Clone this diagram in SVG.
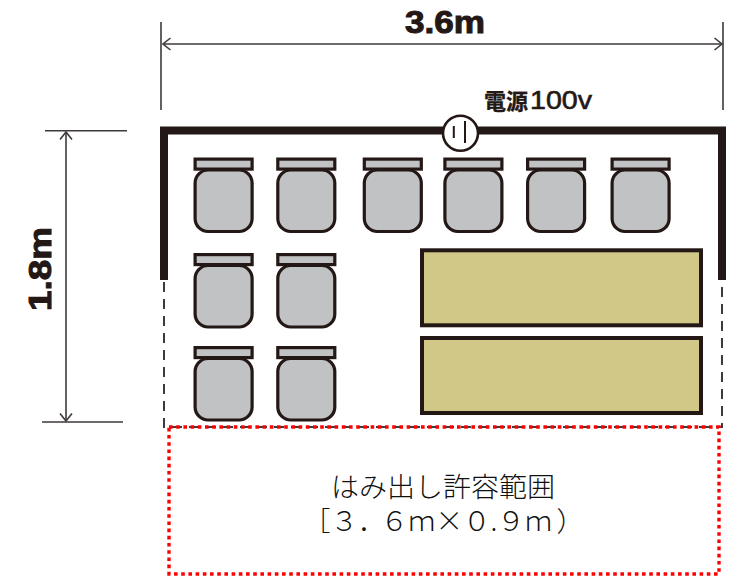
<svg xmlns="http://www.w3.org/2000/svg" xmlns:xlink="http://www.w3.org/1999/xlink" width="732" height="576" viewBox="0 0 732 576">
<style>
.dim{fill:none;stroke:#3e3a39;stroke-width:1.6}
.wall{fill:none;stroke:#231815;stroke-width:8}
.dash{fill:none;stroke:#3e3a39;stroke-width:2;stroke-dasharray:10 7}
.seat{fill:#c0c2c4;stroke:#231815;stroke-width:3.2}
.mat{fill:#d1c888;stroke:#231815;stroke-width:4}
.b{font-family:"Liberation Sans","Noto Sans CJK JP",sans-serif;font-weight:700;fill:#231815;stroke:#231815;stroke-width:1}
.j{font-family:"Noto Sans CJK JP",sans-serif;font-weight:300;fill:#111;font-size:27.5px}
</style>
<defs>
<marker id="arr" viewBox="0 0 14 14" refX="12.5" refY="7" markerWidth="14" markerHeight="14" markerUnits="userSpaceOnUse" orient="auto-start-reverse"><path d="M5 1 L12.5 7 L5 13" fill="none" stroke="#3e3a39" stroke-width="1.6"/></marker>
<g id="c"><rect class="seat" x="1.6" y="1.6" width="57" height="10"/><rect class="seat" x="1.6" y="12.5" width="57" height="61.5" rx="13"/></g>
</defs>
<g id="connectors">
<path class="dim" d="M161 22V110M723 22V110M45 130.7H127M42 422H123"/>
<path class="dim" d="M163 44H722" marker-start="url(#arr)" marker-end="url(#arr)"/>
<path class="dim" d="M66 132V421" marker-start="url(#arr)" marker-end="url(#arr)"/>
</g>
<g id="room">
<path class="dash" d="M164 282V427H722V282"/>
<path class="wall" d="M164 280V130.5H722V280"/>
</g>
<g id="outlet">
<circle cx="460.5" cy="133.3" r="17.5" fill="#fff" stroke="#231815" stroke-width="2.6"/>
<path d="M453.8 126V138M465 121V143" stroke="#231815" stroke-width="2" fill="none"/>
</g>
<g id="chairs">
<use xlink:href="#c" href="#c" x="193.5" y="157.5"/>
<use xlink:href="#c" href="#c" x="276.2" y="157.5"/>
<use xlink:href="#c" href="#c" x="362.7" y="157.5"/>
<use xlink:href="#c" href="#c" x="443.3" y="157.5"/>
<use xlink:href="#c" href="#c" x="526" y="157.5"/>
<use xlink:href="#c" href="#c" x="610.5" y="157.5"/>
<use xlink:href="#c" href="#c" x="193.5" y="253"/>
<use xlink:href="#c" href="#c" x="276.2" y="253"/>
<use xlink:href="#c" href="#c" x="193.5" y="346"/>
<use xlink:href="#c" href="#c" x="276.2" y="346"/>
</g>
<g id="mats">
<rect class="mat" x="422" y="250.3" width="279" height="75"/>
<rect class="mat" x="422" y="338" width="279" height="75"/>
</g>
<g id="allowance">
<rect x="169" y="427" width="550" height="147" fill="none" stroke="#f00" stroke-width="3.4" stroke-dasharray="3.6 3.6"/>
<text class="j"><tspan x="331" y="497" textLength="224" lengthAdjust="spacingAndGlyphs">はみ出し許容範囲</tspan><tspan x="303" y="531">［３．</tspan><tspan dx="-5">６ｍ×０.９ｍ</tspan><tspan dx="4">）</tspan></text>
</g>
<g id="labels">
<text class="b" x="405" y="33" textLength="80" lengthAdjust="spacingAndGlyphs" font-size="31.5">3.6m</text>
<text class="b" transform="translate(51 311) rotate(-90)" textLength="84" lengthAdjust="spacingAndGlyphs" font-size="32">1.8m</text>
<text class="b" x="484" y="109" font-size="22" style="stroke-width:.3">電源<tspan x="530" font-size="25.5" font-weight="400" style="stroke-width:.6" textLength="62" lengthAdjust="spacingAndGlyphs">100v</tspan></text>
</g>
</svg>
